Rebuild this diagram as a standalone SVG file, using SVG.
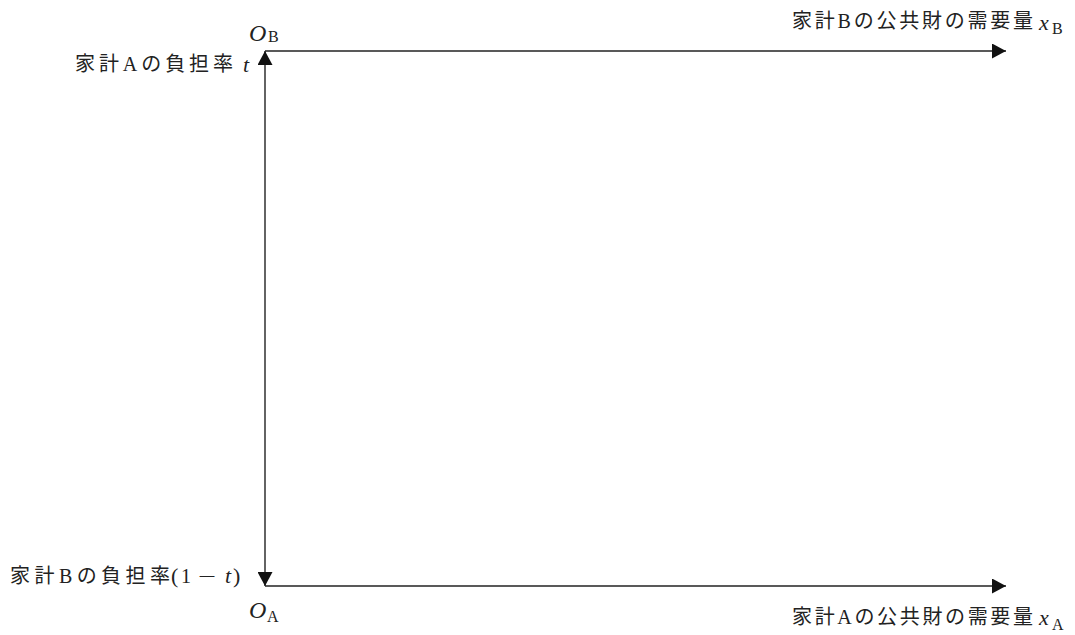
<svg xmlns="http://www.w3.org/2000/svg" width="1075" height="635" viewBox="0 0 1075 635">
<style>
.jp{font-family:"Liberation Serif","Noto Sans CJK JP",serif;font-size:20px;fill:#222;}
.it{font-style:italic;font-family:"Liberation Serif",serif;font-size:22px;fill:#222;}
.o{font-style:italic;font-family:"Liberation Serif",serif;font-size:24px;fill:#222;}
.sub{font-size:16px;font-family:"Liberation Serif",serif;fill:#222;}
.ax{stroke:#222;stroke-width:1.4;fill:none;}
</style>
<defs>
<marker id="ah" viewBox="0 0 14 15" refX="14" refY="7.5" markerWidth="14" markerHeight="15" markerUnits="userSpaceOnUse" orient="auto">
<path d="M0,0 L14,7.5 L0,15 Z" fill="#111"/>
</marker>
</defs>
<rect width="1075" height="635" fill="#fff"/>
<g id="connectors">
<line class="ax" x1="265" y1="319" x2="265" y2="51" marker-end="url(#ah)"/>
<line class="ax" x1="265" y1="319" x2="265" y2="586" marker-end="url(#ah)"/>
<line class="ax" x1="265" y1="51" x2="1006" y2="51" marker-end="url(#ah)"/>
<line class="ax" x1="265" y1="586" x2="1006" y2="586" marker-end="url(#ah)"/>
</g>
<g id="origin-B">
<text class="o" x="249" y="41">O</text>
<text class="sub" x="268" y="42">B</text>
</g>
<g id="origin-A">
<text class="o" x="249" y="618">O</text>
<text class="sub" x="267" y="622">A</text>
</g>
<g id="label-tA">
<text class="jp" x="75" y="71" textLength="158" lengthAdjust="spacing">家計Aの負担率</text>
<text class="it" x="243" y="72">t</text>
</g>
<g id="label-tB">
<text class="jp" x="10" y="583" textLength="160" lengthAdjust="spacing">家計Bの負担率</text>
<text class="it" x="171" y="583" style="font-style:normal">(</text>
<text class="jp" x="181" y="583">1</text>
<text class="jp" x="0" y="0" transform="translate(198,583) scale(1.6,1)">−</text>
<text class="it" x="225" y="583">t</text>
<text class="it" x="233" y="583" style="font-style:normal">)</text>
</g>
<g id="label-xB">
<text class="jp" x="792" y="28" textLength="241" lengthAdjust="spacing">家計Bの公共財の需要量</text>
<text class="it" x="1039" y="30">x</text>
<text class="sub" x="1052" y="34">B</text>
</g>
<g id="label-xA">
<text class="jp" x="792" y="624" textLength="241" lengthAdjust="spacing">家計Aの公共財の需要量</text>
<text class="it" x="1039" y="625">x</text>
<text class="sub" x="1052" y="630">A</text>
</g>
</svg>
